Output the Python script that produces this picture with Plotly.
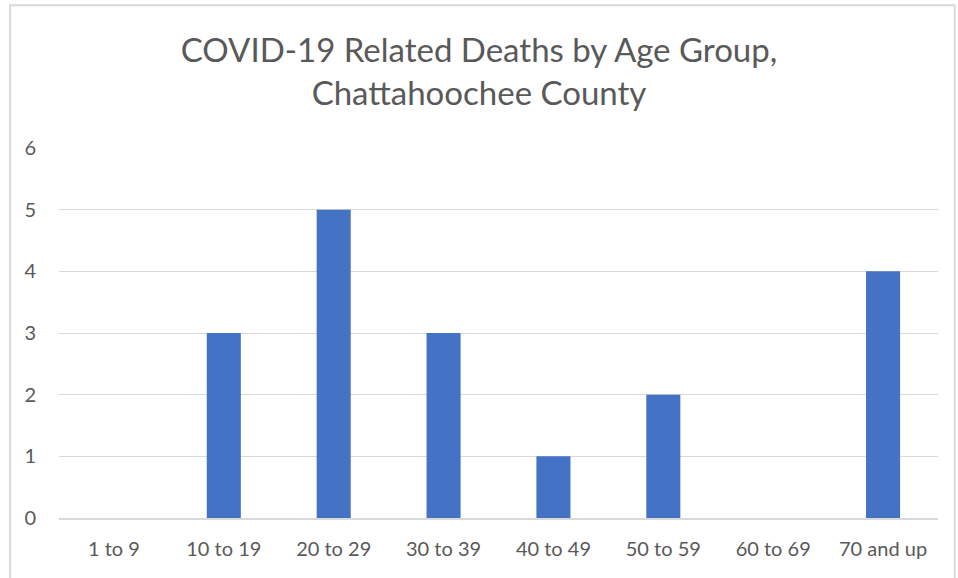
import plotly.graph_objects as go

age_groups = ['1 to 9', '10 to 19', '20 to 29', '30 to 39', '40 to 49',
              '50 to 59', '60 to 69', '70 and up']
deaths = [0, 3, 5, 3, 1, 2, 0, 4]
y_ticks = [0, 1, 2, 3, 4, 5, 6]

fig = go.Figure(go.Bar(x=age_groups, y=deaths, marker_color='#4472C4', width=0.31,
                       marker_line_width=0))

fig.update_layout(
    width=958, height=578,
    margin=dict(l=59, r=20, t=148, b=60),
    paper_bgcolor='white', plot_bgcolor='white',
    font=dict(family='Lato', color='#595959', size=20),
    title=dict(text='COVID-19 Related Deaths by Age Group,<br>Chattahoochee County',
               x=0.5, xanchor='center', y=0.892, yanchor='middle',
               font=dict(size=33, color='#595959')),
    showlegend=False,
)
fig.update_xaxes(showgrid=False, ticks='', tickfont=dict(size=20), showline=True,
                 linecolor='#d9d9d9', linewidth=2, ticklabelstandoff=12, layer='above traces')
fig.update_yaxes(range=[0, 6], tickvals=y_ticks, showgrid=True, gridcolor='#d9d9d9',
                 gridwidth=1, zeroline=False, ticks='', ticklabelstandoff=22)

# chart border
fig.add_shape(type='rect', xref='paper', yref='paper',
              x0=-0.0557, x1=1.019, y0=-0.2, y1=1.386,
              line=dict(color='#d9d9d9', width=2), layer='below')

fig.write_html('out.html', config={'displayModeBar': False},
               post_script="document.body.style.margin='0';")
